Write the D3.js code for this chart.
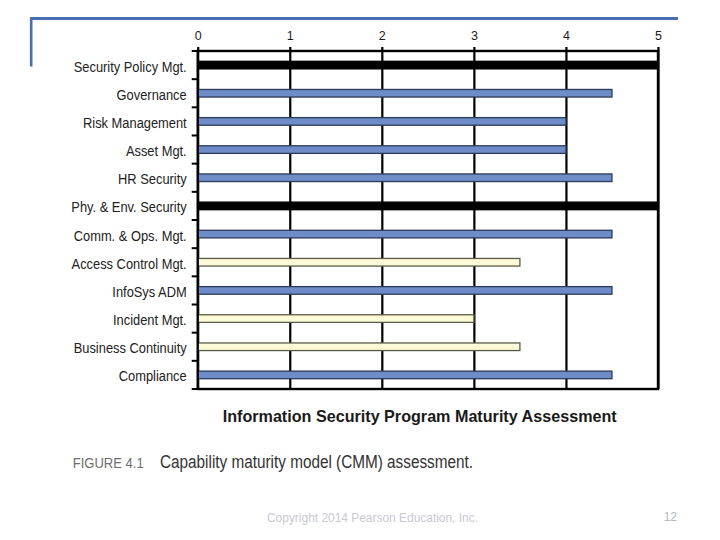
<!DOCTYPE html>
<html>
<head>
<meta charset="utf-8">
<script src="https://cdn.jsdelivr.net/npm/d3@7"></script>
<style>
  html, body { margin: 0; padding: 0; background: #fff; }
  svg { display: block; font-family: "Liberation Sans", Arial, Helvetica, sans-serif; }
</style>
</head>
<body>
<svg id="chart" width="720" height="540"></svg>
<script>
// ---- data ----
const categories = [
  "Security Policy Mgt.", "Governance", "Risk Management", "Asset Mgt.",
  "HR Security", "Phy. & Env. Security", "Comm. & Ops. Mgt.", "Access Control Mgt.",
  "InfoSys ADM", "Incident Mgt.", "Business Continuity", "Compliance"
];
const values = [5, 4.5, 4, 4, 4.5, 5, 4.5, 3.5, 4.5, 3, 3.5, 4.5];
const levels = ["full", "good", "good", "good", "good", "full", "good", "low", "good", "low", "low", "good"];
const tickValues = [0, 1, 2, 3, 4, 5];
const chartTitle = "Information Security Program Maturity Assessment";
const figureLabel = "FIGURE 4.1";
const figureCaption = "Capability maturity model (CMM) assessment.";
const footerText = "Copyright 2014 Pearson Education, Inc.";
const pageNumber = "12";

// ---- styles ----
const fillFor = { full: "#000000", good: "#6d8cc8", low: "#fdfad8" };
const strokeFor = { full: "#000000", good: "#2c3a58", low: "#5a5a48" };

const svg = d3.select("#chart");

// decorative slide frame
svg.append("line").attr("x1", 30).attr("x2", 678).attr("y1", 18.5).attr("y2", 18.5)
  .attr("stroke", "#4a6db3").attr("stroke-width", 3);
svg.append("line").attr("x1", 31.2).attr("x2", 31.2).attr("y1", 17).attr("y2", 66.5)
  .attr("stroke", "#4a6db3").attr("stroke-width", 2.6);

const plotLeft = 197.7, plotRight = 658, plotTop = 51, plotBottom = 389;

const x = d3.scaleLinear().domain([0, 5]).range([plotLeft, plotRight]);
const y = d3.scaleBand().domain(categories).range([plotTop, plotBottom]).paddingInner(0).paddingOuter(0);

const g = svg.append("g");

// vertical grid lines + top ticks via axisTop
const topAxis = d3.axisTop(x).tickValues(tickValues).tickFormat(d3.format("d"))
  .tickSize(-(plotBottom - plotTop)).tickSizeOuter(0).tickPadding(11);
const ax = g.append("g").attr("transform", `translate(0,${plotTop})`).call(topAxis);
ax.select(".domain").remove();
ax.selectAll(".tick line").attr("y1", -4).attr("stroke", "#000").attr("stroke-width", 2.2);
ax.selectAll(".tick text").attr("fill", "#1a1a1a").style("font-size", "12.5px")
  .attr("font-family", "'Liberation Sans', Arial, sans-serif");

// bars
g.selectAll("rect.bar").data(categories).join("rect")
  .attr("class", "bar")
  .attr("x", x(0))
  .attr("y", d => y(d) + y.bandwidth() / 2 - 3.8)
  .attr("width", (d, i) => x(values[i]) - x(0))
  .attr("height", 7.6)
  .attr("fill", (d, i) => fillFor[levels[i]])
  .attr("stroke", (d, i) => strokeFor[levels[i]])
  .attr("stroke-width", 1.3);

// frame
g.append("rect").attr("x", plotLeft).attr("y", plotTop).attr("width", plotRight - plotLeft).attr("height", plotBottom - plotTop)
  .attr("fill", "none").attr("stroke", "#000").attr("stroke-width", 2.4);

// left ticks at band boundaries
const boundaries = categories.map(c => y(c)).concat([plotBottom]);
g.selectAll("line.ltick").data(boundaries).join("line")
  .attr("class", "ltick")
  .attr("x1", plotLeft - 6).attr("x2", plotLeft)
  .attr("y1", d => d).attr("y2", d => d)
  .attr("stroke", "#000").attr("stroke-width", 2);

// category labels
g.selectAll("text.cat").data(categories).join("text")
  .attr("class", "cat")
  .attr("transform", d => `translate(${plotLeft - 11},${y(d) + y.bandwidth() / 2 + 6.5}) scale(0.92,1)`)
  .attr("text-anchor", "end")
  .attr("fill", "#222")
  .style("font-size", "14px")
  .text(d => d);

// chart title
svg.append("text").attr("x", 222.7).attr("y", 421.7)
  .attr("textLength", 394).attr("lengthAdjust", "spacingAndGlyphs")
  .attr("font-weight", "bold").attr("fill", "#1a1a1a").style("font-size", "16.5px")
  .text(chartTitle);

// figure caption
svg.append("text").attr("x", 72.7).attr("y", 467.7)
  .attr("textLength", 71).attr("lengthAdjust", "spacingAndGlyphs")
  .attr("fill", "#6e6e6e").style("font-size", "15px")
  .text(figureLabel);
svg.append("text").attr("x", 160).attr("y", 468.3)
  .attr("textLength", 313).attr("lengthAdjust", "spacingAndGlyphs")
  .attr("fill", "#333").style("font-size", "17.5px")
  .text(figureCaption);

// footer
svg.append("text").attr("x", 267).attr("y", 522)
  .attr("textLength", 211).attr("lengthAdjust", "spacingAndGlyphs")
  .attr("fill", "#c9c8d6").style("font-size", "12px")
  .text(footerText);
svg.append("text").attr("x", 677).attr("y", 521).attr("text-anchor", "end")
  .attr("fill", "#b4b4c4").style("font-size", "12px")
  .text(pageNumber);
</script>
</body>
</html>
